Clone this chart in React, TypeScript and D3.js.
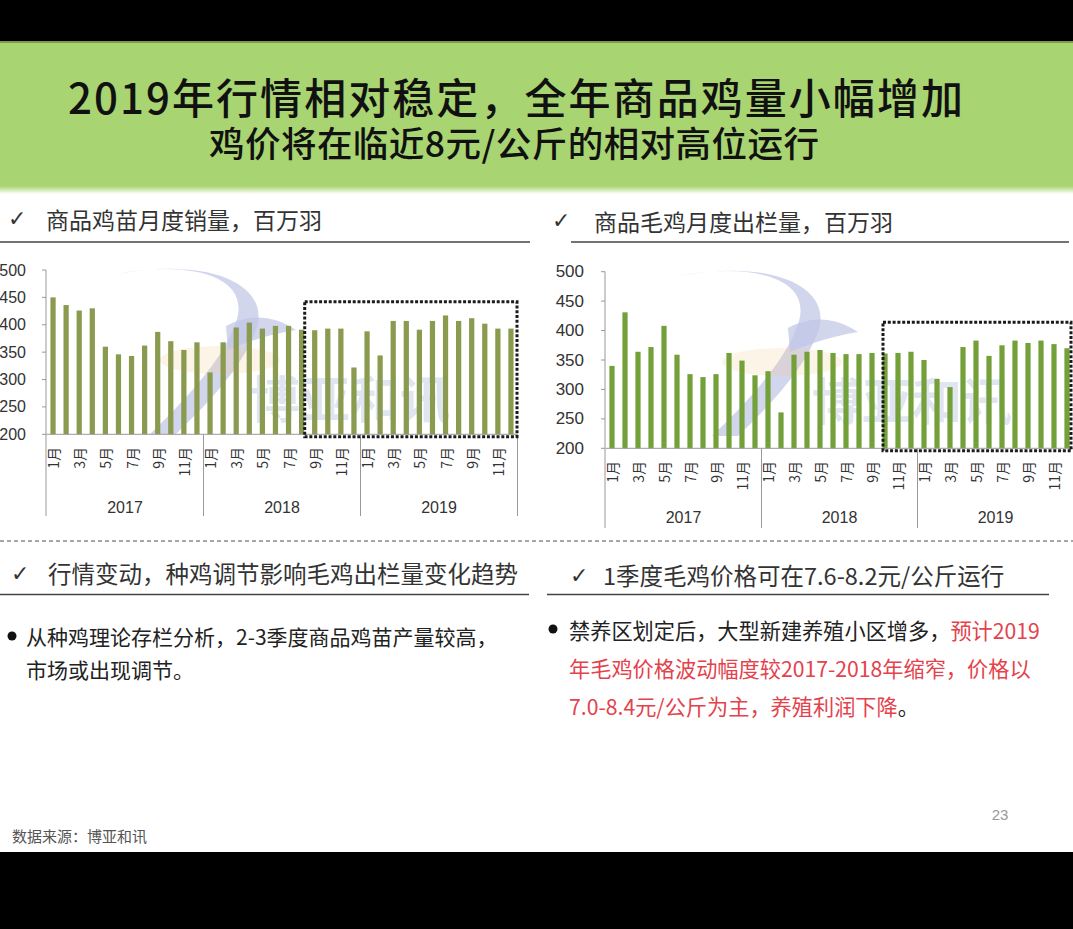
import React from "react";
import * as d3 from "d3";

const W = 1073;
const H = 929;

// ---------- data ----------
const years = ["2017", "2018", "2019"];
const monthTicks = ["1月", "3月", "5月", "7月", "9月", "11月"];
const yTicks = [200, 250, 300, 350, 400, 450, 500];

// 商品鸡苗月度销量，百万羽
const chickSales2017 = [450, 436, 426, 430, 360, 346, 343, 362, 387, 370, 354, 368];
const chickSales2018 = [313, 368, 395, 404, 393, 398, 398, 391, 390, 393, 393, 322];
const chickSales2019 = [388, 344, 407, 407, 391, 407, 417, 407, 412, 402, 393, 393];

// 商品毛鸡月度出栏量，百万羽
const broilerOut2017 = [340, 431, 364, 372, 408, 359, 326, 321, 326, 362, 349, 324];
const broilerOut2018 = [331, 261, 359, 364, 367, 362, 360, 360, 362, 361, 362, 364];
const broilerOut2019 = [350, 318, 304, 372, 383, 357, 375, 383, 379, 383, 377, 370];

const CJK = "'Noto Sans CJK SC', 'Noto Sans', sans-serif";
const LAT = "'Liberation Sans', Arial, sans-serif";

type ChartProps = {
  values: number[];
  color: string;
  xRange: [number, number];
  yRange: [number, number];
  tickLabelX: number;
  tickFont: number;
  monthTop: number;
  dividerBottom: number;
  yearY: number;
  boxStart: number;
  boxLeftOffset: number;
  boxTopValue: number;
  boxRight: number;
  wmDx: number;
  wmDy: number;
};

function Watermark({ dx, dy }: { dx: number; dy: number }) {
  return (
    <g transform={`translate(${dx},${dy})`}>
      <path
        d="M116,274 C190,260 252,276 236,322 C226,352 198,388 150,434 L176,434 C218,394 244,362 256,330 C272,286 212,256 116,274 Z"
        fill="#bfc4e6"
        opacity={0.7}
      />
      <path
        d="M226,326 C248,314 272,314 296,330 C272,334 252,340 228,350 Z"
        fill="#bfc4e6"
        opacity={0.7}
      />
      <text x={250} y={418} fontFamily={CJK} fontSize={50} fill="#9aaad6" opacity={0.3} fontWeight={700}>
        博亚和讯
      </text>
      <ellipse cx={220} cy={360} rx={60} ry={14} fill="#f3c98a" opacity={0.2} />
    </g>
  );
}

function BarChart(p: ChartProps) {
  const n = p.values.length;
  const x = d3
    .scaleBand<number>()
    .domain(d3.range(n))
    .range(p.xRange)
    .paddingInner(0.6)
    .paddingOuter(0.3);
  const yearScale = d3.scaleBand<string>().domain(years).range(p.xRange).padding(0);
  const y = d3.scaleLinear().domain([200, 500]).range(p.yRange);
  const axisX = p.xRange[0] - 0.5;
  const bottom = y(200);
  const cx = (i: number) => (x(i) as number) + x.bandwidth() / 2;

  const boxX1 = cx(p.boxStart) + p.boxLeftOffset;
  const boxY1 = y(p.boxTopValue);
  const boundaries = [p.xRange[0], ...years.map((yr) => (yearScale(yr) as number) + yearScale.bandwidth())];

  return (
    <g>
      <Watermark dx={p.wmDx} dy={p.wmDy} />
      {/* y axis */}
      <line x1={axisX} x2={axisX} y1={y(500)} y2={bottom} stroke="#999" strokeWidth={1} />
      {yTicks.map((t) => (
        <g key={t}>
          <line x1={axisX - 4} x2={axisX} y1={y(t)} y2={y(t)} stroke="#999" strokeWidth={1} />
          <text
            x={p.tickLabelX}
            y={y(t)}
            textAnchor="end"
            dominantBaseline="central"
            fontFamily={LAT}
            fontSize={p.tickFont}
            fill="#333"
          >
            {t}
          </text>
        </g>
      ))}
      {/* bars */}
      {p.values.map((v, i) => (
        <rect
          key={i}
          x={x(i) as number}
          y={y(v)}
          width={x.bandwidth()}
          height={bottom - y(v)}
          fill={p.color}
        />
      ))}
      {/* x axis */}
      <line x1={p.xRange[0]} x2={p.xRange[1]} y1={bottom} y2={bottom} stroke="#999" strokeWidth={1} />
      {boundaries.map((bx, i) => (
        <line
          key={i}
          x1={i === 0 ? axisX : bx}
          x2={i === 0 ? axisX : bx}
          y1={bottom}
          y2={p.dividerBottom}
          stroke="#999"
          strokeWidth={1}
        />
      ))}
      {p.values.map((_, i) =>
        i % 2 === 0 ? (
          <text
            key={"m" + i}
            transform={`translate(${cx(i)},${p.monthTop}) rotate(-90)`}
            textAnchor="end"
            dominantBaseline="central"
            fontFamily={CJK}
            fontSize={14}
            fill="#333"
          >
            {monthTicks[(i % 12) / 2]}
          </text>
        ) : null
      )}
      {years.map((yr) => (
        <text
          key={yr}
          x={(yearScale(yr) as number) + yearScale.bandwidth() / 2}
          y={p.yearY}
          textAnchor="middle"
          dominantBaseline="central"
          fontFamily={LAT}
          fontSize={16}
          fill="#333"
        >
          {yr}
        </text>
      ))}
      {/* dotted highlight box */}
      <rect
        x={boxX1}
        y={boxY1}
        width={p.boxRight - boxX1}
        height={bottom + 2.5 - boxY1}
        fill="none"
        stroke="#1a1a1a"
        strokeWidth={3}
        strokeDasharray="3 1.8"
      />
    </g>
  );
}

function Check({ x, y }: { x: number; y: number }) {
  return (
    <text x={x} y={y} dominantBaseline="central" fontFamily="'DejaVu Sans', sans-serif" fontSize={22} fill="#333">
      ✓
    </text>
  );
}

export default function App() {
  const leftValues = [...chickSales2017, ...chickSales2018, ...chickSales2019];
  const rightValues = [...broilerOut2017, ...broilerOut2018, ...broilerOut2019];
  const red = "#e4424c";

  return (
    <div style={{ position: "absolute", left: 0, top: 0 }}>
      <svg width={W} height={H} viewBox={`0 0 ${W} ${H}`} style={{ display: "block" }}>
        <defs>
          <linearGradient id="gfade" x1="0" y1="0" x2="0" y2="1">
            <stop offset="0" stopColor="#a9d472" />
            <stop offset="1" stopColor="#ffffff" />
          </linearGradient>
        </defs>
        <rect x={0} y={0} width={W} height={H} fill="#ffffff" />
        <rect x={0} y={0} width={W} height={41} fill="#000" />
        <rect x={0} y={41} width={W} height={146} fill="#a9d472" />
        <rect x={0} y={41} width={W} height={2} fill="#7f9a4e" />
        <rect x={0} y={186} width={W} height={8} fill="url(#gfade)" />
        <rect x={0} y={852} width={W} height={H - 852} fill="#000" />

        {/* title */}
        <text
          x={68}
          y={95}
          textLength={895}
          lengthAdjust="spacing"
          dominantBaseline="central"
          fontFamily={CJK}
          fontSize={42}
          fontWeight={500}
          fill="#111"
        >
          2019年行情相对稳定，全年商品鸡量小幅增加
        </text>
        <text
          x={209}
          y={141}
          textLength={610}
          lengthAdjust="spacing"
          dominantBaseline="central"
          fontFamily={CJK}
          fontSize={35.5}
          fontWeight={500}
          fill="#111"
        >
          鸡价将在临近8元/公斤的相对高位运行
        </text>

        {/* chart headers */}
        <Check x={8} y={218} />
        <text x={46} y={219} dominantBaseline="central" fontFamily={CJK} fontSize={23} fill="#333">
          商品鸡苗月度销量，百万羽
        </text>
        <line x1={0} x2={530} y1={242} y2={242} stroke="#444" strokeWidth={1.5} />

        <Check x={552} y={220} />
        <text x={594} y={221} dominantBaseline="central" fontFamily={CJK} fontSize={23} fill="#333">
          商品毛鸡月度出栏量，百万羽
        </text>
        <line x1={571} x2={1069} y1={242} y2={242} stroke="#444" strokeWidth={1.5} />

        <BarChart
          values={leftValues}
          color="#8a9a4e"
          xRange={[46.5, 517.5]}
          yRange={[434.3, 270]}
          tickLabelX={26}
          tickFont={16}
          monthTop={447}
          dividerBottom={516}
          yearY={507}
          boxStart={20}
          boxLeftOffset={-10}
          boxTopValue={442}
          boxRight={517}
          wmDx={0}
          wmDy={0}
        />
        <BarChart
          values={rightValues}
          color="#74a03a"
          xRange={[605.5, 1073.5]}
          yRange={[448.3, 271.7]}
          tickLabelX={584}
          tickFont={17}
          monthTop={461}
          dividerBottom={528}
          yearY={517}
          boxStart={21}
          boxLeftOffset={-2}
          boxTopValue={414}
          boxRight={1071}
          wmDx={562}
          wmDy={2}
        />

        {/* separator */}
        <line x1={0} x2={W} y1={541} y2={541} stroke="#8a8a8a" strokeWidth={1.5} strokeDasharray="4 3" />

        {/* bottom-left block */}
        <Check x={11} y={573} />
        <text x={48} y={573} dominantBaseline="central" fontFamily={CJK} fontSize={23.5} fill="#333">
          行情变动，种鸡调节影响毛鸡出栏量变化趋势
        </text>
        <line x1={0} x2={529} y1={594.5} y2={594.5} stroke="#444" strokeWidth={1.5} />
        <circle cx={12} cy={636} r={4.5} fill="#111" />
        <text x={26} y={636} dominantBaseline="central" fontFamily={CJK} fontSize={21} fill="#222">
          从种鸡理论存栏分析，2-3季度商品鸡苗产量较高，
        </text>
        <text x={26} y={669} dominantBaseline="central" fontFamily={CJK} fontSize={21} fill="#222">
          市场或出现调节。
        </text>

        {/* bottom-right block */}
        <Check x={570} y={575} />
        <text x={603} y={575} dominantBaseline="central" fontFamily={CJK} fontSize={23.5} fill="#333">
          1季度毛鸡价格可在7.6-8.2元/公斤运行
        </text>
        <line x1={547} x2={1049} y1={594.5} y2={594.5} stroke="#444" strokeWidth={1.5} />
        <circle cx={553} cy={629} r={4.5} fill="#111" />
        <text x={569} y={629} dominantBaseline="central" fontFamily={CJK} fontSize={21.2} fill="#222">
          <tspan>禁养区划定后，大型新建养殖小区增多，</tspan>
          <tspan fill={red}>预计2019</tspan>
        </text>
        <text x={569} y={667} dominantBaseline="central" fontFamily={CJK} fontSize={21.2} fill={red}>
          年毛鸡价格波动幅度较2017-2018年缩窄，价格以
        </text>
        <text x={569} y={705} dominantBaseline="central" fontFamily={CJK} fontSize={21.2} fill={red}>
          <tspan>7.0-8.4元/公斤为主，养殖利润下降</tspan>
          <tspan fill="#222">。</tspan>
        </text>

        {/* footer */}
        <text x={12} y={835} dominantBaseline="central" fontFamily={CJK} fontSize={15} fill="#555">
          数据来源：博亚和讯
        </text>
        <text x={1000} y={814} textAnchor="middle" dominantBaseline="central" fontFamily={LAT} fontSize={15} fill="#999">
          23
        </text>
      </svg>
    </div>
  );
}
